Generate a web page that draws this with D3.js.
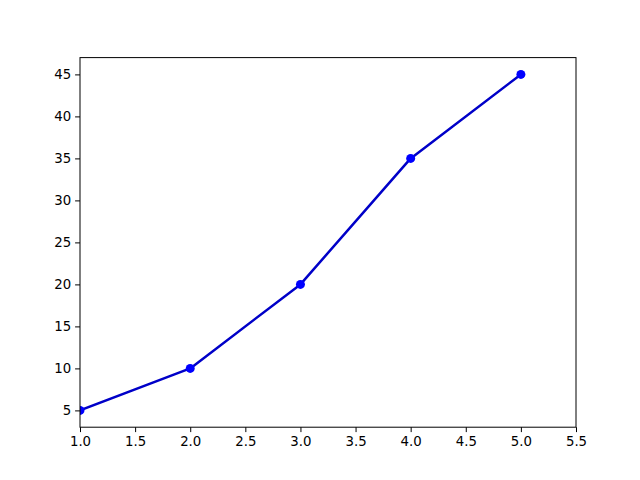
<!DOCTYPE html>
<html>
<head>
<meta charset="utf-8">
<script src="https://cdn.jsdelivr.net/npm/d3@7"></script>
<style>
    body { margin: 0; background: #fff; }
    .axis text { font-family: "DejaVu Sans", sans-serif; font-size: 13.3px; fill: #000; }
    .axis path, .axis line { stroke: #000; stroke-width: 1; }
</style>
</head>
<body>
<div id="chart"></div>
<script>
'use strict';

var xValues = [1, 2, 3, 4, 5];
var yValues = [5, 10, 20, 35, 45];
var xTicks = [1.0, 1.5, 2.0, 2.5, 3.0, 3.5, 4.0, 4.5, 5.0, 5.5];
var yTicks = [5, 10, 15, 20, 25, 30, 35, 40, 45];

var width = 640, height = 480;
var margin = {left: 80, right: 64, top: 57.6, bottom: 52.8};

var svg = d3.select("#chart").append("svg")
    .attr("width", width)
    .attr("height", height);

var x = d3.scaleLinear()
    .domain([1, 5.5])
    .range([margin.left, width - margin.right]);

var y = d3.scaleLinear()
    .domain([3, 47])
    .range([height - margin.bottom, margin.top]);

var data = xValues.map(function (d, i) {
    return {x: d, y: yValues[i]};
});

svg.append("clipPath")
    .attr("id", "plotclip")
    .append("rect")
    .attr("x", margin.left)
    .attr("y", margin.top)
    .attr("width", width - margin.left - margin.right)
    .attr("height", height - margin.top - margin.bottom);

var plot = svg.append("g").attr("clip-path", "url(#plotclip)");

var line = d3.line()
    .x(function (d) { return x(d.x); })
    .y(function (d) { return y(d.y); });

plot.append("path")
    .datum(data)
    .attr("d", line)
    .attr("fill", "none")
    .attr("stroke", "#0000c8")
    .attr("stroke-width", 2.5)
    .attr("stroke-linejoin", "round");

plot.selectAll(".dot")
    .data(data)
    .enter().append("circle")
    .attr("class", "dot")
    .attr("cx", function (d) { return x(d.x); })
    .attr("cy", function (d) { return y(d.y); })
    .attr("r", 4.5)
    .attr("fill", "blue");

svg.append("g")
    .attr("class", "axis")
    .attr("transform", "translate(0," + (height - margin.bottom) + ")")
    .call(d3.axisBottom(x).tickValues(xTicks).tickFormat(d3.format(".1f"))
        .tickSizeInner(4.9).tickSizeOuter(0).tickPadding(4));

svg.append("g")
    .attr("class", "axis")
    .attr("transform", "translate(" + margin.left + ",0)")
    .call(d3.axisLeft(y).tickValues(yTicks).tickFormat(d3.format("d"))
        .tickSizeInner(4.9).tickSizeOuter(0).tickPadding(4));

// frame
svg.append("rect")
    .attr("x", margin.left)
    .attr("y", margin.top)
    .attr("width", width - margin.left - margin.right)
    .attr("height", height - margin.top - margin.bottom)
    .attr("fill", "none")
    .attr("stroke", "#000")
    .attr("stroke-width", 1);

svg.selectAll(".axis .domain").remove();
</script>
</body>
</html>
